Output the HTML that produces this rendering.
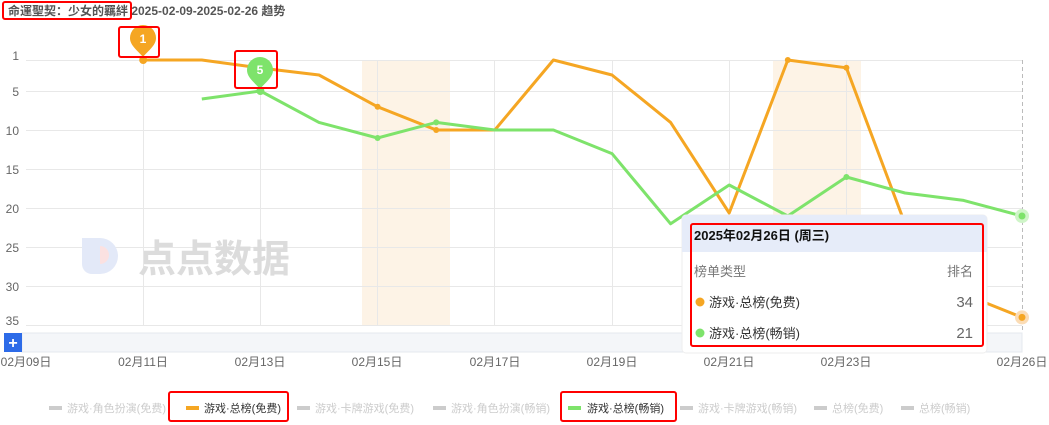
<!DOCTYPE html>
<html><head><meta charset="utf-8"><style>
body{margin:0;background:#fff;width:1049px;height:425px;overflow:hidden;font-family:"Liberation Sans","Noto Sans CJK SC",sans-serif;}
</style></head><body>
<svg width="1049" height="425" xmlns="http://www.w3.org/2000/svg" style="position:absolute;left:0;top:0;font-family:'Liberation Sans','Noto Sans CJK SC',sans-serif">
<text x="8" y="15" font-size="12" font-weight="bold" fill="#555">命運聖契：少女的羈絆 2025-02-09-2025-02-26 趋势</text>
<rect x="3" y="2" width="128" height="17" fill="none" stroke="#f00" stroke-width="2" rx="2"/>
<rect x="362" y="60" width="88" height="265" fill="#fdf3e6"/>
<rect x="773" y="60" width="88" height="265" fill="#fdf3e6"/>
<g stroke="#e8e8e8" stroke-width="1">
<line x1="26" y1="60.5" x2="1022" y2="60.5"/><line x1="26" y1="91.5" x2="1022" y2="91.5"/><line x1="26" y1="130.5" x2="1022" y2="130.5"/><line x1="26" y1="169.5" x2="1022" y2="169.5"/><line x1="26" y1="208.5" x2="1022" y2="208.5"/><line x1="26" y1="247.5" x2="1022" y2="247.5"/><line x1="26" y1="286.5" x2="1022" y2="286.5"/><line x1="26" y1="325.5" x2="1022" y2="325.5"/>
<line x1="143.5" y1="60" x2="143.5" y2="325"/><line x1="260.5" y1="60" x2="260.5" y2="325"/><line x1="377.5" y1="60" x2="377.5" y2="325"/><line x1="494.5" y1="60" x2="494.5" y2="325"/><line x1="612.5" y1="60" x2="612.5" y2="325"/><line x1="729.5" y1="60" x2="729.5" y2="325"/><line x1="846.5" y1="60" x2="846.5" y2="325"/>
</g>
<line x1="1022.5" y1="60" x2="1022.5" y2="330" stroke="#bbb" stroke-dasharray="4,3"/>
<g font-size="12" fill="#666" text-anchor="end">
<text x="19" y="60">1</text><text x="19" y="96">5</text><text x="19" y="135">10</text><text x="19" y="174">15</text><text x="19" y="213">20</text><text x="19" y="252">25</text><text x="19" y="291">30</text><text x="19" y="325">35</text>
</g>
<path d="M82 238 h18 a18 18 0 0 1 0 36 h-8 a10 10 0 0 1 -10 -10 z" fill="#e3e9f8"/>
<path d="M100 246 a9 9 0 0 1 0 18 z" fill="#fbe1e1"/>
<text x="138" y="272" font-size="38" font-weight="bold" fill="#dcdcdc">点点数据</text>
<polyline fill="none" stroke="#f5a623" stroke-width="3" stroke-linejoin="round" points="143.2,60 201.8,60 260.4,68 319,75 377.6,106.8 436.2,130 494.8,130 553.4,60 612,75 670.6,122.4 729.2,213 787.8,60 846.4,67.8 905,223.8 963.6,294 1022,317.4"/>
<polyline fill="none" stroke="#7ee36b" stroke-width="3" stroke-linejoin="round" points="201.8,99 260.4,91 319,122.4 377.6,138 436.2,122.4 494.8,130 553.4,130 612,153.6 670.6,223.8 729.2,185 787.8,216 846.4,177 905,193 963.6,200.4 1022,216"/>
<g fill="#f5a623"><circle cx="143.2" cy="60" r="4"/><circle cx="377.6" cy="106.8" r="3"/><circle cx="436.2" cy="130" r="3"/><circle cx="787.8" cy="60" r="3"/><circle cx="846.4" cy="67.8" r="3"/></g>
<g fill="#7ee36b"><circle cx="260.4" cy="91" r="4"/><circle cx="377.6" cy="138" r="3"/><circle cx="436.2" cy="122.4" r="3"/><circle cx="846.4" cy="177" r="3"/></g>
<circle cx="1022" cy="317.4" r="7" fill="#fbdcb5"/><circle cx="1022" cy="317.4" r="3.5" fill="#f5a623"/>
<circle cx="1022" cy="216" r="7" fill="#cff5c8"/><circle cx="1022" cy="216" r="3.5" fill="#7ee36b"/>
<path d="M143 57 C136 49 130 45 130 38 A13 13 0 0 1 156 38 C156 45 150 49 143 57Z" fill="#f5a623"/>
<text x="143" y="43" font-size="12" font-weight="bold" fill="#fff" text-anchor="middle">1</text>
<rect x="119" y="27" width="40" height="30" fill="none" stroke="#f00" stroke-width="2" rx="2"/>
<path d="M260 89 C253 81 247 77 247 70 A13 13 0 0 1 273 70 C273 77 267 81 260 89Z" fill="#7ee36b"/>
<text x="260" y="74" font-size="12" font-weight="bold" fill="#fff" text-anchor="middle">5</text>
<rect x="235" y="51" width="42" height="37" fill="none" stroke="#f00" stroke-width="2" rx="2"/>
<rect x="22" y="333" width="1000" height="19" fill="#f4f6f9" stroke="#e5e8ee"/>
<rect x="4" y="333" width="18" height="19" fill="#2d6be8"/>
<text x="13" y="348" font-size="16" font-weight="bold" fill="#fff" text-anchor="middle">+</text>
<g font-size="12" fill="#666" text-anchor="middle">
<text x="26" y="366">02月09日</text><text x="143" y="366">02月11日</text><text x="260" y="366">02月13日</text><text x="377" y="366">02月15日</text><text x="495" y="366">02月17日</text><text x="612" y="366">02月19日</text><text x="729" y="366">02月21日</text><text x="846" y="366">02月23日</text><text x="1022" y="366">02月26日</text>
</g>
<g font-size="11" fill="#ccc">
<rect x="49" y="406" width="13" height="4" fill="#ccc"/><text x="67" y="412">游戏·角色扮演(免费)</text>
<rect x="186" y="406" width="13" height="4" fill="#f5a623"/><text x="204" y="412" fill="#333">游戏·总榜(免费)</text>
<rect x="297" y="406" width="13" height="4" fill="#ccc"/><text x="315" y="412">游戏·卡牌游戏(免费)</text>
<rect x="433" y="406" width="13" height="4" fill="#ccc"/><text x="451" y="412">游戏·角色扮演(畅销)</text>
<rect x="568" y="406" width="13" height="4" fill="#7ee36b"/><text x="587" y="412" fill="#333">游戏·总榜(畅销)</text>
<rect x="680" y="406" width="13" height="4" fill="#ccc"/><text x="698" y="412">游戏·卡牌游戏(畅销)</text>
<rect x="814" y="406" width="13" height="4" fill="#ccc"/><text x="832" y="412">总榜(免费)</text>
<rect x="901" y="406" width="13" height="4" fill="#ccc"/><text x="919" y="412">总榜(畅销)</text>
</g>
<rect x="169" y="392" width="119" height="29" fill="none" stroke="#f00" stroke-width="2" rx="2"/>
<rect x="561" y="392" width="115" height="29" fill="none" stroke="#f00" stroke-width="2" rx="2"/>
<rect x="682" y="215" width="305" height="138" rx="4" fill="#fff" stroke="#eee"/>
<path d="M682 219 a4 4 0 0 1 4 -4 h297 a4 4 0 0 1 4 4 v33 h-305z" fill="#e6ecf9"/>
<text x="694" y="240" font-size="13" font-weight="bold" fill="#111">2025年02月26日 (周三)</text>
<text x="694" y="276" font-size="13" fill="#777">榜单类型</text>
<text x="973" y="276" font-size="13" fill="#777" text-anchor="end">排名</text>
<circle cx="700" cy="302" r="4.5" fill="#f5a623"/>
<text x="709" y="307" font-size="13" fill="#333">游戏·总榜(免费)</text>
<text x="973" y="307" font-size="15" fill="#666" text-anchor="end">34</text>
<circle cx="700" cy="333" r="4.5" fill="#7ee36b"/>
<text x="709" y="338" font-size="13" fill="#333">游戏·总榜(畅销)</text>
<text x="973" y="338" font-size="15" fill="#666" text-anchor="end">21</text>
<rect x="691" y="224" width="292" height="122" fill="none" stroke="#f00" stroke-width="2" rx="2"/>
</svg>
</body></html>
